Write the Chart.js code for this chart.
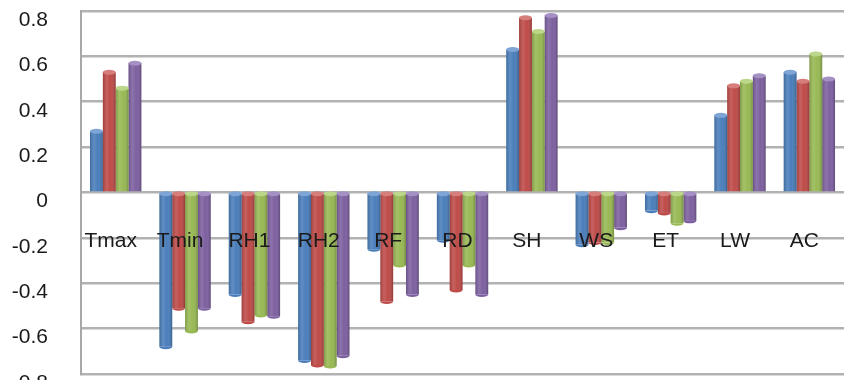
<!DOCTYPE html>
<html>
<head>
<meta charset="utf-8">
<script src="https://cdn.jsdelivr.net/npm/chart.js@4.4.1/dist/chart.umd.min.js"></script>
<style>
  html, body { margin: 0; padding: 0; background: #ffffff; overflow: hidden; }
  #wrap { width: 860px; height: 380px; overflow: hidden; position: relative; }
  #wrap canvas { display: block; }
</style>
</head>
<body>
<div id="wrap"><canvas id="c" width="860" height="400"></canvas></div>
<script>
// Correlation coefficients of each weather variable, four series
const categories = ['Tmax', 'Tmin', 'RH1', 'RH2', 'RF', 'RD', 'SH', 'WS', 'ET', 'LW', 'AC'];
const series1 = [0.27, -0.68, -0.45, -0.74, -0.25, -0.21, 0.63, -0.23, -0.08, 0.34, 0.53];
const series2 = [0.53, -0.51, -0.57, -0.76, -0.48, -0.43, 0.77, -0.22, -0.09, 0.47, 0.49];
const series3 = [0.46, -0.61, -0.54, -0.765, -0.32, -0.32, 0.71, -0.22, -0.135, 0.49, 0.61];
const series4 = [0.57, -0.51, -0.545, -0.72, -0.45, -0.45, 0.78, -0.155, -0.125, 0.515, 0.50];
const seriesNames = ['Series 1', 'Series 2', 'Series 3', 'Series 4'];
const yMin = -0.8;
const yMax = 0.8;
const yStep = 0.2;

const seriesColors = ['#4a7ebb', '#be4b48', '#98b954', '#7d60a0'];
const capColors = ['#7ea5d6', '#d67e7b', '#bcd68a', '#a590c4'];

// Shades every bar like a cylinder: side gradient plus an elliptic cap
const cylinderShade = {
  id: 'cylinderShade',
  afterDatasetDraw(chart, args) {
    const ctx = chart.ctx;
    const i = args.index;
    ctx.save();
    args.meta.data.forEach(bar => {
      const p = bar.getProps(['x', 'y', 'base', 'width'], true);
      const l = p.x - p.width / 2;
      const top = Math.min(p.y, p.base);
      const h = Math.abs(p.base - p.y);
      const g = ctx.createLinearGradient(l, 0, l + p.width, 0);
      g.addColorStop(0, 'rgba(0,0,0,0.16)');
      g.addColorStop(0.3, 'rgba(255,255,255,0.12)');
      g.addColorStop(0.6, 'rgba(255,255,255,0.0)');
      g.addColorStop(1, 'rgba(0,0,0,0.24)');
      ctx.fillStyle = g;
      ctx.fillRect(l, top, p.width, h);
      const rx = p.width / 2, ry = 2.5;
      if (p.y < p.base) {
        ctx.fillStyle = capColors[i];
        ctx.beginPath();
        ctx.ellipse(p.x, p.y, rx, ry, 0, 0, Math.PI * 2);
        ctx.fill();
      } else {
        ctx.fillStyle = seriesColors[i];
        ctx.beginPath();
        ctx.ellipse(p.x, p.y, rx, ry, 0, 0, Math.PI);
        ctx.fill();
        ctx.fillStyle = capColors[i];
        ctx.beginPath();
        ctx.ellipse(p.x, p.base, rx, ry, 0, 0, Math.PI * 2);
        ctx.fill();
      }
    });
    ctx.restore();
  }
};

const allSeries = [series1, series2, series3, series4];

new Chart(document.getElementById('c'), {
  type: 'bar',
  data: {
    labels: categories,
    datasets: allSeries.map((vals, k) => ({
      label: seriesNames[k],
      data: vals,
      backgroundColor: seriesColors[k],
      borderWidth: 0,
      barPercentage: 1.0,
      categoryPercentage: 0.74
    }))
  },
  options: {
    responsive: false,
    animation: false,
    devicePixelRatio: 1,
    layout: { padding: { top: 11, bottom: 26, left: 0, right: 1 } },
    plugins: { legend: { display: false }, tooltip: { enabled: false } },
    scales: {
      x: {
        position: { y: 0 },
        grid: { display: false, drawTicks: false },
        border: { display: false },
        ticks: {
          z: 1,
          padding: 36,
          labelOffset: -5,
          color: '#1a1a1a',
          font: { family: '"Liberation Sans", Arial, sans-serif', size: 21 },
          maxRotation: 0,
          autoSkip: false
        }
      },
      y: {
        min: yMin,
        max: yMax,
        grid: { color: '#b2b2b2', lineWidth: 2.5, drawTicks: false },
        border: { display: true, color: '#a8a8a8', width: 2 },
        ticks: {
          stepSize: yStep,
          padding: 33,
          labelOffset: 9,
          color: '#1a1a1a',
          font: { family: '"Liberation Sans", Arial, sans-serif', size: 21 },
          callback: v => String(Math.round(v * 10) / 10)
        },
        afterFit(scale) {
          scale.width = 81;
          scale.paddingTop = 0;
          scale.paddingBottom = 0;
        }
      }
    }
  },
  plugins: [cylinderShade]
});
</script>
</body>
</html>
